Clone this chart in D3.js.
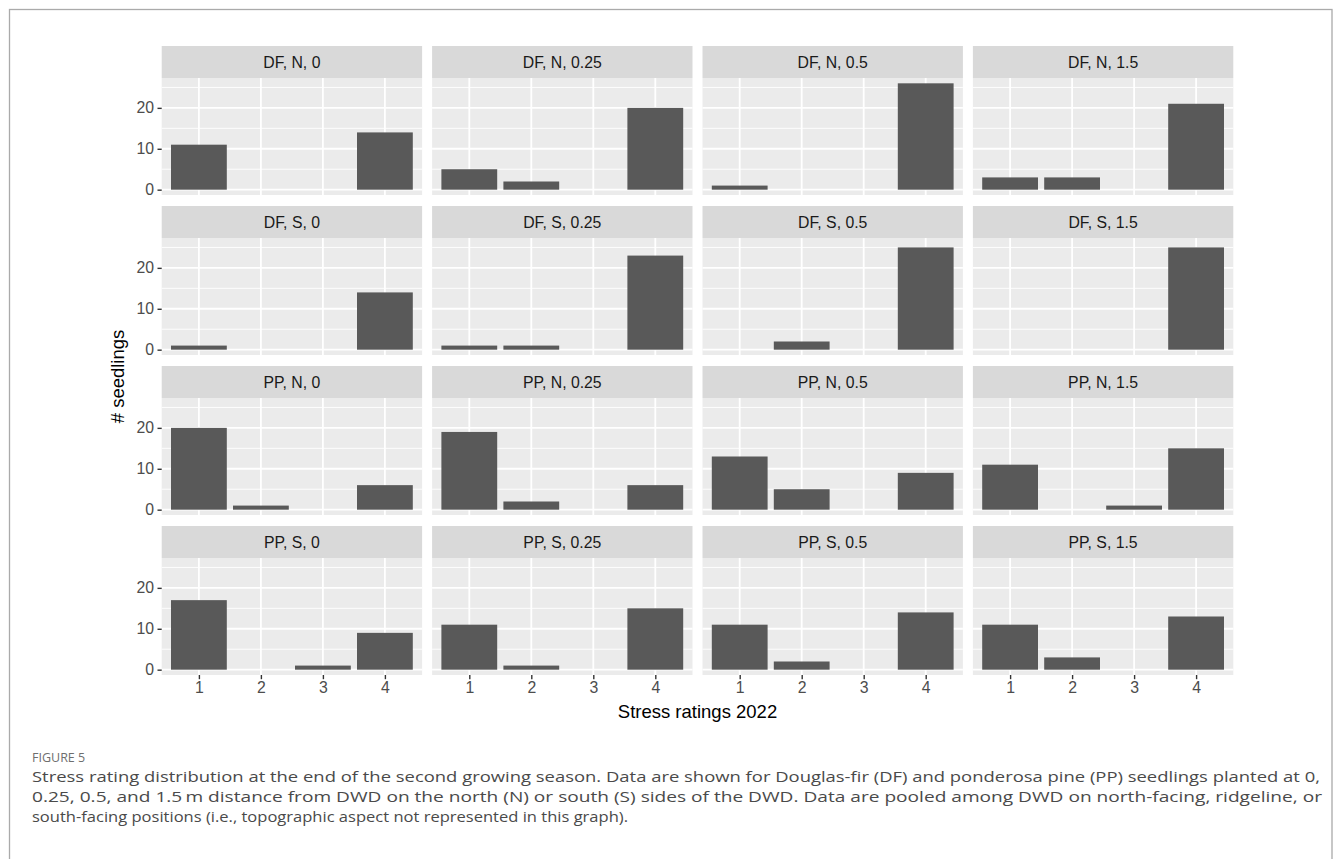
<!DOCTYPE html>
<html><head><meta charset="utf-8">
<script src="https://cdn.jsdelivr.net/npm/d3@7"></script>
<style>
html,body{margin:0;padding:0;background:#fff;}
svg{display:block;}
</style></head>
<body>
<script>
// ---- data ----
const ratings = [1, 2, 3, 4];
const species = ["DF", "DF", "PP", "PP"];
const sides = ["N", "S", "N", "S"];
const distances = ["0", "0.25", "0.5", "1.5"];
const yTicks = [0, 10, 20];
// counts per rating 1..4, rows = species/side, columns = distance
const countsDFN = [[11,0,0,14],[5,2,0,20],[1,0,0,26],[3,3,0,21]];
const countsDFS = [[1,0,0,14],[1,1,0,23],[0,2,0,25],[0,0,0,25]];
const countsPPN = [[20,1,0,6],[19,2,0,6],[13,5,0,9],[11,0,1,15]];
const countsPPS = [[17,0,1,9],[11,1,0,15],[11,2,0,14],[11,3,0,13]];
const allCounts = [countsDFN, countsDFS, countsPPN, countsPPS];
const xTitle = "Stress ratings 2022";
const yTitle = "# seedlings";
const figLabel = "FIGURE 5";
const captionLines = [
 "Stress rating distribution at the end of the second growing season. Data are shown for Douglas-fir (DF) and ponderosa pine (PP) seedlings planted at 0,",
 "0.25, 0.5, and 1.5\u2009m distance from DWD on the north (N) or south (S) sides of the DWD. Data are pooled among DWD on north-facing, ridgeline, or",
 "south-facing positions (i.e., topographic aspect not represented in this graph)."
];

// ---- layout ----
const W = 1335, H = 859;
const left0 = 161.7, panelW = 260.4, colGap = 10;
const top0 = 78, panelH = 117, stripH = 32, rowStride = 160;
const font = "'Liberation Sans', Arial, Helvetica, sans-serif";
const axFS = 15.8;

const svg = d3.select("body").append("svg").attr("width", W).attr("height", H);
svg.append("rect").attr("x", 9.5).attr("y", 9.5).attr("width", 1322.5).attr("height", 900)
  .attr("fill", "none").attr("stroke", "#aaaaaa").attr("stroke-width", 1.3);

const maxVal = d3.max(allCounts.flat(2));
const yMin = -0.05 * maxVal, yMax = maxVal * 1.05;

// discrete expansion 0.6: range 0.4..4.6
const xc = d3.scaleLinear().domain([0.4, 4.6]).range([0, panelW]);
const y = d3.scaleLinear().domain([yMin, yMax]).range([panelH, 0]);
const barW = 0.9 * (xc(2) - xc(1));

for (let r = 0; r < 4; r++) {
  for (let c = 0; c < 4; c++) {
    const px = left0 + c * (panelW + colGap);
    const py = top0 + r * rowStride;
    const g = svg.append("g").attr("transform", `translate(${px},${py})`);
    // strip
    g.append("rect").attr("x", 0).attr("y", -stripH).attr("width", panelW).attr("height", stripH).attr("fill", "#d9d9d9");
    g.append("text").attr("x", panelW / 2).attr("y", -stripH / 2).attr("dy", "0.35em")
      .attr("text-anchor", "middle").attr("font-family", font).attr("font-size", axFS).attr("fill", "#1a1a1a")
      .text(`${species[r]}, ${sides[r]}, ${distances[c]}`);
    // panel bg
    g.append("rect").attr("width", panelW).attr("height", panelH).attr("fill", "#ebebeb");
    // minor grid
    [5, 15, 25].forEach(v => {
      g.append("line").attr("x1", 0).attr("x2", panelW).attr("y1", y(v)).attr("y2", y(v))
        .attr("stroke", "#fff").attr("stroke-width", 0.9);
    });
    yTicks.forEach(v => {
      g.append("line").attr("x1", 0).attr("x2", panelW).attr("y1", y(v)).attr("y2", y(v))
        .attr("stroke", "#fff").attr("stroke-width", 1.8);
    });
    ratings.forEach(v => {
      g.append("line").attr("x1", xc(v)).attr("x2", xc(v)).attr("y1", 0).attr("y2", panelH)
        .attr("stroke", "#fff").attr("stroke-width", 1.8);
    });
    // bars
    const vals = allCounts[r][c];
    g.selectAll("rect.bar").data(ratings.map((k, i) => ({k, v: vals[i]})).filter(d => d.v > 0))
      .enter().append("rect").attr("class", "bar")
      .attr("x", d => xc(d.k) - barW / 2).attr("width", barW)
      .attr("y", d => y(d.v)).attr("height", d => y(0) - y(d.v))
      .attr("fill", "#595959");
    // y axis on left column
    if (c === 0) {
      const ay = g.append("g").call(d3.axisLeft(y).tickValues(yTicks).tickSize(4.2).tickPadding(3.5));
      ay.select(".domain").remove();
      ay.selectAll("line").attr("stroke", "#333").attr("stroke-width", 1.4);
      ay.selectAll("text").attr("font-family", font).attr("font-size", axFS).attr("fill", "#4d4d4d");
    }
    if (r === 3) {
      const ax = g.append("g").attr("transform", `translate(0,${panelH})`)
        .call(d3.axisBottom(xc).tickValues(ratings).tickFormat(d3.format("d")).tickSize(4.2).tickPadding(3));
      ax.select(".domain").remove();
      ax.selectAll("line").attr("stroke", "#333").attr("stroke-width", 1.4);
      ax.selectAll("text").attr("font-family", font).attr("font-size", axFS).attr("fill", "#4d4d4d");
    }
  }
}

// axis titles
const plotRight = left0 + 4 * panelW + 3 * colGap;
const plotBottom = top0 + 3 * rowStride + panelH;
svg.append("text").attr("x", (left0 + plotRight) / 2).attr("y", 718)
  .attr("text-anchor", "middle").attr("font-family", font).attr("font-size", 18.5).attr("fill", "#000")
  .text(xTitle);
svg.append("text").attr("transform", `translate(124,${(top0 + plotBottom) / 2}) rotate(-90)`)
  .attr("text-anchor", "middle").attr("font-family", font).attr("font-size", 18.5).attr("fill", "#000")
  .text(yTitle);

// caption
const capFont = "'Open Sans', 'Noto Sans', sans-serif";
svg.append("text").attr("x", 32).attr("y", 762).attr("font-family", capFont)
  .attr("font-size", 12.5).attr("fill", "#6e6e6e").text(figLabel);
const capEnds = [1320, 1322, 628];
captionLines.forEach((t, i) => {
  svg.append("text").attr("x", 32).attr("y", 782 + i * 20).attr("font-family", capFont)
    .attr("font-size", 15.2).attr("fill", "#4a4a4a").text(t)
    .attr("textLength", capEnds[i] - 32).attr("lengthAdjust", "spacingAndGlyphs");
});
</script>
</body></html>
